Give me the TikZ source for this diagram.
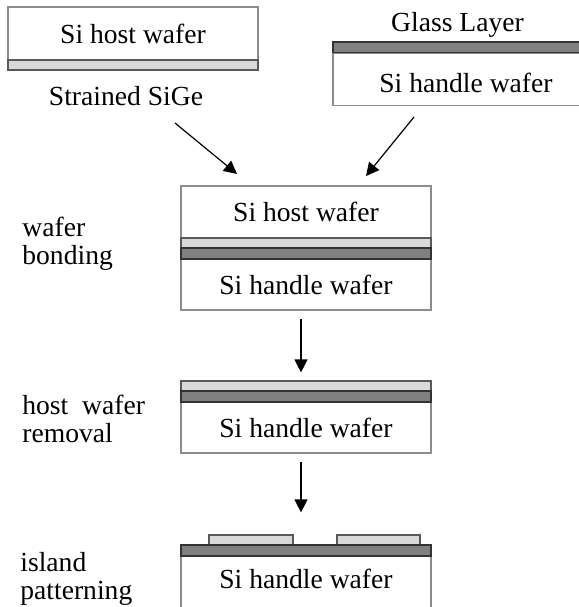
\documentclass[tikz,border=0pt]{standalone}
\usepackage{fontspec}
\setmainfont{Liberation Serif}
\usetikzlibrary{arrows.meta}

\definecolor{rimgray}{gray}{0.55}
\definecolor{sigegray}{gray}{0.85}
\definecolor{glassgray}{gray}{0.5}

\begin{document}
\begin{tikzpicture}[x=0.5pt,y=-0.5pt,
    font=\fontsize{13.8}{14}\selectfont,
    wafer/.style={rectangle,draw=rimgray,line width=0.7pt,fill=white,
      inner sep=0pt,outer sep=0pt,minimum width=125pt},
    sige/.style={rectangle,draw=black!65,line width=0.6pt,fill=sigegray,
      inner sep=0pt,minimum height=5pt},
    glass/.style={rectangle,draw=black!80,line width=0.6pt,fill=glassgray,
      inner sep=0pt,minimum width=125pt,minimum height=5.5pt},
    stagelabel/.style={align=left,anchor=north west,inner sep=0pt},
    arr/.style={-{Triangle[length=6.5pt,width=6.5pt]},line width=0.6pt}]

      \useasboundingbox (0,0) rectangle (579,607);
      \clip (0,0) rectangle (579,607);

      % Nodes
      \node[wafer,minimum height=26.5pt] (host0) at (133,33.5) {Si host wafer};
      \node[sige,minimum width=125pt] (sige0) at (133,65) {};
      \node[anchor=base,inner sep=0pt] (sigelabel) at (126,105) {Strained SiGe};

      \node[anchor=base,inner sep=0pt] (glasslabel) at (457.5,31) {Glass Layer};
      \node[glass,minimum width=133pt] (glass0) at (466,47.5) {};
      \node[wafer,minimum width=133pt,minimum height=26pt,text depth=0pt,text height=12.5pt] (handle0) at (466,79.5) {Si handle wafer};

      \node[wafer,minimum height=26pt] (host1) at (306,212) {Si host wafer};
      \node[wafer,minimum height=25.5pt] (handle1) at (306,284.5) {Si handle wafer};
      \node[sige,minimum width=125pt] (sige1) at (306,243) {};
      \node[glass] (glass1) at (306,253.5) {};

      \node[wafer,minimum height=25.5pt] (handle2) at (306,427.5) {Si handle wafer};
      \node[sige,minimum width=125pt] (sige2) at (306,386) {};
      \node[glass] (glass2) at (306,396.5) {};

      \node[wafer,minimum height=26.5pt,text depth=4pt] (handle3) at (306,582.5) {Si handle wafer};
      \node[sige,minimum width=42pt] (island1) at (251,540) {};
      \node[sige,minimum width=41.5pt] (island2) at (378.5,540) {};
      \node[glass] (glass3) at (306,550.5) {};

      \node[stagelabel] (bonding) at (22,216.5) {wafer\\bonding};
      \node[stagelabel] (removal) at (22,394.5) {host\ \ wafer\\removal};
      \node[stagelabel] (pattern) at (20,551.5) {island\\patterning};

      \coordinate (from0) at (175,123);
      \coordinate (into0) at (237,174);
      \coordinate (from1) at (414,117);
      \coordinate (into1) at (366,176);

      % Edges
      \draw[arr] (from0) -- (into0);
      \draw[arr] (from1) -- (into1);
      \draw[arr,shorten <=4.5pt,shorten >=4pt] ([xshift=-2.5pt]handle1.south) -- ([xshift=-2.5pt]sige2.north);
      \draw[arr,shorten <=4.5pt,shorten >=11pt] ([xshift=-2.5pt]handle2.south) -- ([xshift=-2.5pt]island1.north -| handle2.south);

\end{tikzpicture}
\end{document}
